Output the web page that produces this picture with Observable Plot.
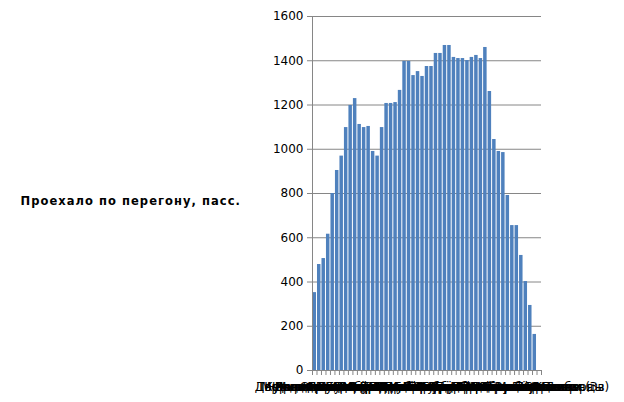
<!DOCTYPE html>
<html>
<head>
<meta charset="utf-8">
<script src="https://cdn.jsdelivr.net/npm/d3@7"></script>
<script src="https://cdn.jsdelivr.net/npm/@observablehq/plot@0.6"></script>
<style>
  html, body { margin: 0; padding: 0; background: #fff; }
  #chart svg { display: block; }
</style>
</head>
<body>
<div id="chart"></div>
<script>
const stations = [
  "Тверь – Дорошиха", "Дорошиха – Межево", "Межево – Кулицкая", "Кулицкая – Редкино",
  "Редкино – Мирная", "Мирная – Донховка", "Донховка – Завидово", "Завидово – Черничная",
  "Черничная – Решетниково", "Решетниково – Копылово", "Копылово – Ямуга", "Ямуга – Покровка",
  "Покровка – Клин", "Клин – Стреглово", "Стреглово – Фроловское", "Фроловское – Головково",
  "Головково – Сенеж", "Сенеж – Подсолнечная", "Подсолнечная – Берёзки", "Берёзки – Поварово",
  "Поварово – Поваровка", "Поваровка – Радищево", "Радищево – Алабушево", "Алабушево – Фирсановская",
  "Фирсановская – Малино", "Малино – Крюково", "Крюково – Подрезково", "Подрезково – Сходня",
  "Сходня – Планерная", "Планерная – Химки", "Химки – Левобережная", "Левобережная – Ховрино",
  "Ховрино – Грачёвская", "Грачёвская – Моссельмаш", "Моссельмаш – Лихоборы", "Лихоборы – Окружная",
  "Окружная – Останкино", "Останкино – Рижская", "Рижская – Москва", "Москва – Каланчёвская",
  "Каланчёвская – Курская", "Курская – Серп и Молот", "Серп и Молот – Фрезер", "Фрезер – Перово",
  "Перово – Плющево", "Плющево – Вешняки", "Вешняки – Выхино", "Выхино – Косино",
  "Косино – Ухтомская", "Ухтомская – Люберцы", "Люберцы – Панки (Зв)"
];
const passengers = [
  352, 479, 506, 616, 800, 904, 969, 1098, 1198, 1229,
  1112, 1098, 1103, 990, 969, 1098, 1207, 1207, 1211, 1266,
  1397, 1397, 1333, 1351, 1329, 1374, 1374, 1433, 1433, 1469,
  1469, 1415, 1410, 1410, 1401, 1415, 1424, 1410, 1460, 1261,
  1044, 990, 985, 791, 655, 655, 520, 402, 294, 163,
  0
];
const yTicks = [0, 200, 400, 600, 800, 1000, 1200, 1400, 1600];
const legendLabel = "Проехало по перегону, пасс.";

const data = stations.map((s, i) => ({i, s, v: passengers[i]}));
const boundaries = d3.range(stations.length + 1);

const gridColor = "#868686";
const chart = Plot.plot({
  width: 624,
  height: 402,
  marginLeft: 312,
  marginRight: 83,
  marginTop: 16,
  marginBottom: 32,
  style: {fontFamily: "DejaVu Sans", fontSize: "12px", color: "#000", background: "#fff"},
  x: {domain: [0, stations.length], axis: null, label: null},
  y: {domain: [0, 1600], axis: null, label: null},
  marks: [
    Plot.gridY(yTicks, {stroke: gridColor, strokeOpacity: 1, strokeWidth: 1}),
    Plot.rectY(data, {x1: "i", x2: d => d.i + 1, y: "v", fill: "#4f81bd", insetLeft: 0.5, insetRight: 0.5}),
    Plot.axisY(yTicks, {tickSize: 5, stroke: gridColor, tickPadding: 4, fill: "#000", fontSize: 12, tickFormat: d => String(d), label: null}),
    Plot.axisX(boundaries, {tickSize: 5, stroke: gridColor, text: null, label: null}),
    Plot.ruleX([0], {stroke: gridColor}),
    Plot.ruleY([0], {stroke: gridColor}),
    Plot.text(data, {x: d => d.i + 0.5, y: 0, text: "s", dy: 17, fill: "#000", fontSize: 12, textAnchor: "middle"}),
    Plot.text([legendLabel], {frameAnchor: "left", dx: -292, dy: 8, textAnchor: "start", fontSize: 11.5, fontWeight: "bold", fill: "#000"})
  ]
});
d3.select(chart).selectAll("text").filter(function() { return this.textContent === legendLabel; })
  .style("letter-spacing", "1.05px");
document.getElementById("chart").append(chart);
</script>
</body>
</html>
